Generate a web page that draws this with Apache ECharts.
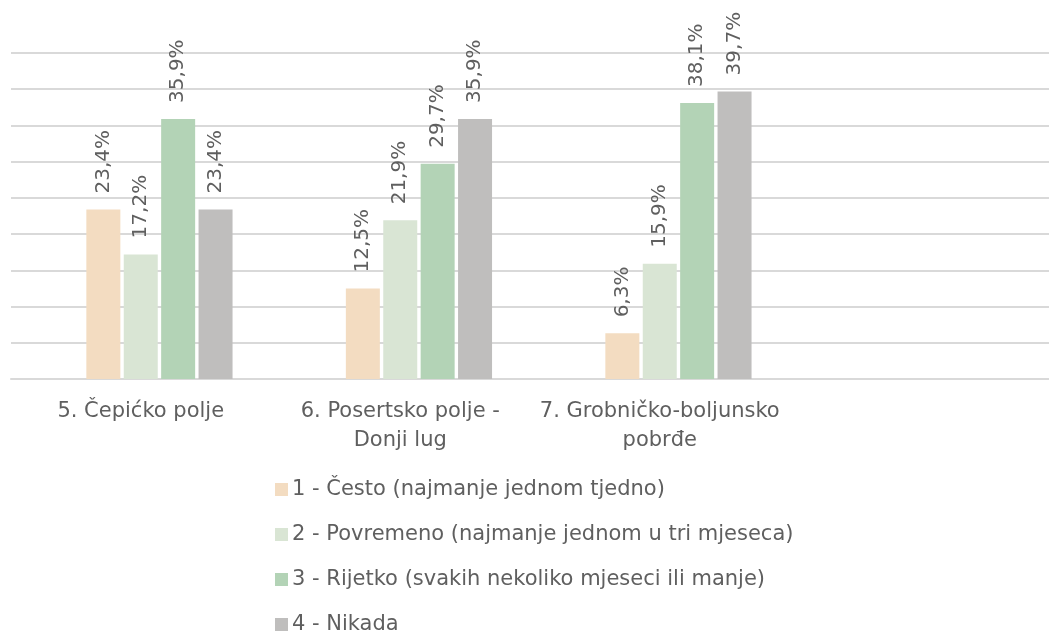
<!DOCTYPE html>
<html>
<head>
<meta charset="utf-8">
<script src="https://cdn.jsdelivr.net/npm/echarts@6/dist/echarts.min.js"></script>
<style>
  html, body { margin: 0; padding: 0; background: #fff; }
  #chart { width: 1049px; height: 632px; }
</style>
</head>
<body>
<div id="chart"></div>
<script>
'use strict';

// categories (last one is an empty slot, as in the original sheet)
const categories = ['5. Čepićko polje', '6. Posertsko polje -\nDonji lug', '7. Grobničko-boljunsko\npobrđe', ''];

const seriesNames = [
    '1 - Često (najmanje jednom tjedno)',
    '2 - Povremeno (najmanje jednom u tri mjeseca)',
    '3 - Rijetko (svakih nekoliko mjeseci ili manje)',
    '4 - Nikada'
];
const often = [23.4, 12.5, 6.3, null];
const sometimes = [17.2, 21.9, 15.9, null];
const rarely = [35.9, 29.7, 38.1, null];
const never = [23.4, 35.9, 39.7, null];
const blank = [null, null, null, null];

const colors = ['#F3DCC1', '#D9E5D4', '#B3D3B6', '#BFBEBD'];

const FONT = 'DejaVu Sans';
const TEXT_COLOR = '#5f5f5f';

let labelOpt = {
    show: true,
    position: 'top',
    rotate: 90,
    align: 'left',
    verticalAlign: 'middle',
    distance: 16,
    color: TEXT_COLOR,
    fontFamily: FONT,
    fontSize: 20,
    formatter: function (p) {
        return p.value == null ? '' : p.value.toFixed(1).replace('.', ',') + '%';
    }
};

let makeSeries = function (name, data, color) {
    return {
        name: name,
        type: 'bar',
        data: data,
        barWidth: 34,
        barGap: '10%',
        itemStyle: { color: color },
        label: labelOpt,
        emphasis: { disabled: true }
    };
};

let myChart = echarts.init(document.getElementById('chart'), null, { renderer: 'canvas' });

let option = {
    animation: false,
    backgroundColor: '#fff',
    grid: {
        left: 11,
        right: 0,
        top: 53,
        bottom: 253
    },
    legend: {
        orient: 'vertical',
        left: 275,
        top: 479,
        height: 170,
        padding: 0,
        itemWidth: 13,
        itemHeight: 13,
        itemGap: 24,
        icon: 'rect',
        data: seriesNames,
        textStyle: {
            color: TEXT_COLOR,
            fontFamily: FONT,
            fontSize: 21,
            lineHeight: 20,
            padding: [0, 0, 0, -1]
        }
    },
    xAxis: {
        type: 'category',
        data: categories,
        axisLine: { lineStyle: { color: '#D9D9D9', width: 2 } },
        axisTick: { show: false },
        axisLabel: {
            color: TEXT_COLOR,
            fontFamily: FONT,
            fontSize: 21,
            lineHeight: 29,
            margin: 18,
            interval: 0
        }
    },
    yAxis: {
        type: 'value',
        min: 0,
        max: 45,
        interval: 5,
        axisLabel: { show: false },
        axisLine: { show: false },
        axisTick: { show: false },
        splitLine: { lineStyle: { color: '#D9D9D9', width: 2 } }
    },
    series: [
        makeSeries('', blank, '#fff'),
        makeSeries(seriesNames[0], often, colors[0]),
        makeSeries(seriesNames[1], sometimes, colors[1]),
        makeSeries(seriesNames[2], rarely, colors[2]),
        makeSeries(seriesNames[3], never, colors[3])
    ]
};

myChart.setOption(option);
</script>
</body>
</html>
